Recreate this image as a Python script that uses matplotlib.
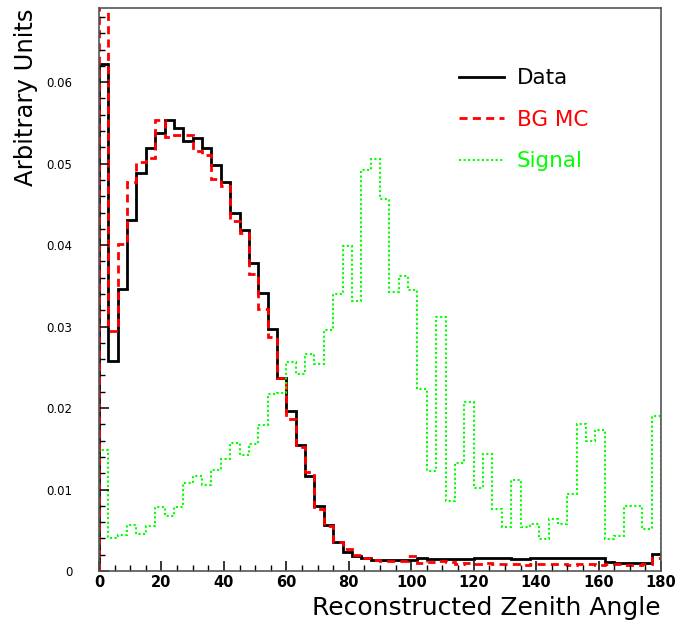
import numpy as np
import matplotlib
matplotlib.use('Agg')
import matplotlib.pyplot as plt
from matplotlib.ticker import MultipleLocator, FuncFormatter

# 60 bins of 3 degrees, 0..180
edges = np.arange(0, 181, 3)

data = [0.0622, 0.0258, 0.0346, 0.0431, 0.0489, 0.0519, 0.0538, 0.0553, 0.0544, 0.0528,
        0.0531, 0.0519, 0.0498, 0.0478, 0.0439, 0.0418, 0.0378, 0.0341, 0.0297, 0.0237,
        0.0196, 0.0155, 0.0117, 0.0080, 0.0057, 0.0035, 0.0023, 0.0018, 0.0016, 0.0014,
        0.0014, 0.0014, 0.0014, 0.0014, 0.0016, 0.0015, 0.0015, 0.0015, 0.0015, 0.0015,
        0.0016, 0.0016, 0.0016, 0.0016, 0.0015, 0.0015, 0.0016, 0.0016, 0.0016, 0.0016,
        0.0016, 0.0016, 0.0016, 0.0016, 0.0011, 0.0010, 0.0010, 0.0010, 0.0010, 0.0021]

bg_mc = [0.0800, 0.0295, 0.0401, 0.0477, 0.0502, 0.0507, 0.0553, 0.0533, 0.0535, 0.0535,
         0.0515, 0.0510, 0.0481, 0.0472, 0.0430, 0.0415, 0.0364, 0.0321, 0.0287, 0.0237,
         0.0186, 0.0152, 0.0121, 0.0076, 0.0055, 0.0035, 0.0027, 0.0020, 0.0016, 0.0013,
         0.0012, 0.0012, 0.0012, 0.0019, 0.0010, 0.0011, 0.0012, 0.0011, 0.0009, 0.0010,
         0.0009, 0.0010, 0.0008, 0.0009, 0.0008, 0.0007, 0.0009, 0.0008, 0.0009, 0.0008,
         0.0007, 0.0008, 0.0008, 0.0007, 0.0009, 0.0008, 0.0007, 0.0007, 0.0008, 0.0016]

signal = [0.0148, 0.0041, 0.0044, 0.0056, 0.0046, 0.0055, 0.0078, 0.0067, 0.0079, 0.0108,
          0.0117, 0.0106, 0.0124, 0.0138, 0.0157, 0.0142, 0.0156, 0.0179, 0.0217, 0.0219,
          0.0257, 0.0242, 0.0266, 0.0254, 0.0296, 0.0340, 0.0399, 0.0331, 0.0492, 0.0506,
          0.0456, 0.0342, 0.0362, 0.0345, 0.0223, 0.0123, 0.0312, 0.0086, 0.0133, 0.0208,
          0.0102, 0.0143, 0.0076, 0.0054, 0.0112, 0.0054, 0.0058, 0.0039, 0.0064, 0.0058,
          0.0095, 0.0180, 0.0160, 0.0173, 0.0039, 0.0043, 0.0080, 0.0080, 0.0052, 0.0190]

labels = ['Data', 'BG MC', 'Signal']
colors = ['black', '#ff0000', '#00ff00']

dpi = 100
fig = plt.figure(figsize=(684 / dpi, 622 / dpi), dpi=dpi)
ax = fig.add_axes([99 / 684, 1 - 571 / 622, 562 / 684, 563 / 622])

ax.stairs(data, edges, baseline=0, color=colors[0], lw=2.0, label=labels[0])
ax.stairs(bg_mc, edges, baseline=0, color=colors[1], lw=2.0,
          linestyle=(0, (2.9, 1.9)), label=labels[1])
ax.stairs(signal, edges, baseline=0, color=colors[2], lw=1.5,
          linestyle=(0, (1, 1.2)), label=labels[2])

ax.set_xlim(0, 180)
ax.set_ylim(0, 0.0691)

ax.xaxis.set_major_locator(MultipleLocator(20))
ax.xaxis.set_minor_locator(MultipleLocator(5))
ax.yaxis.set_major_locator(MultipleLocator(0.01))
ax.yaxis.set_minor_locator(MultipleLocator(0.002))
ax.yaxis.set_major_formatter(FuncFormatter(lambda v, p: '0' if abs(v) < 1e-9 else '%.2f' % v))

ax.tick_params(which='both', direction='in', top=False, right=False, color='black')
ax.tick_params(which='major', length=7, width=1.1)
ax.tick_params(which='minor', length=4, width=1.0)
ax.tick_params(axis='y', labelsize=8.5, pad=19)
ax.tick_params(axis='x', labelsize=10.5, pad=3)
for t in ax.get_xticklabels():
    t.set_fontweight('bold')

for s in ax.spines.values():
    s.set_color('#555555')
    s.set_linewidth(1.2)

ax.set_ylabel('Arbitrary Units', fontsize=17.5, loc='top', labelpad=6)
ax.set_xlabel('Reconstructed Zenith Angle', fontsize=18, loc='right', labelpad=4)

leg = ax.legend(loc='upper left', bbox_to_anchor=(0.621, 0.912), frameon=False,
                fontsize=15.5, handlelength=2.1, handletextpad=0.6,
                labelspacing=1.0, borderpad=0)
for t, c in zip(leg.get_texts(), colors):
    t.set_color(c)

fig.savefig('out.png', dpi=dpi)
